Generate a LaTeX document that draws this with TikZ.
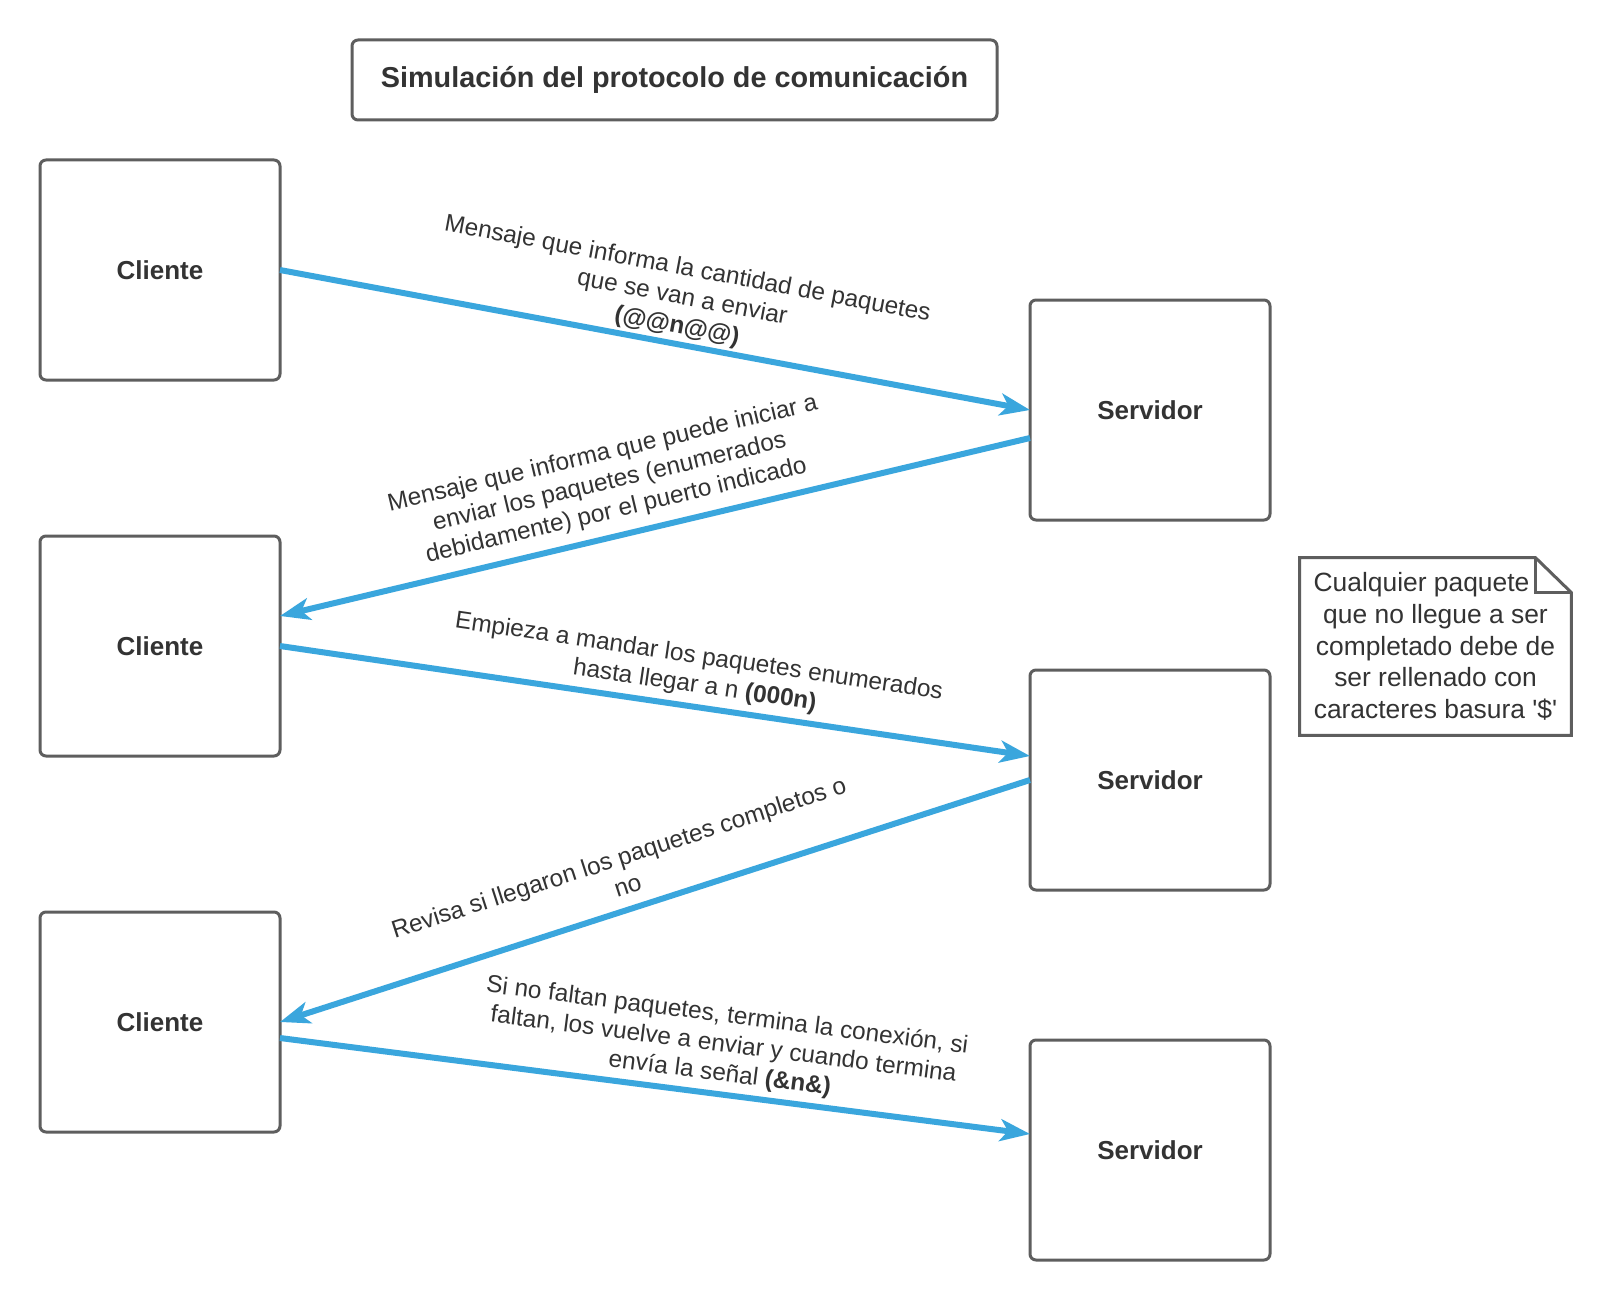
\documentclass[tikz,border=0pt]{standalone}
\usepackage{fontspec}
\setmainfont{Liberation Sans}[Ligatures=TeXOff]
\usepackage{tikz}
\usetikzlibrary{arrows.meta, positioning}
\definecolor{texto}{HTML}{333333}
\definecolor{borde}{HTML}{5E5E5E}
\definecolor{flecha}{HTML}{3AA6DD}
\tikzstyle{block} = [rectangle, draw=borde, line width=1.5pt, rounded corners=3pt,
  minimum width=120pt, minimum height=110pt, outer sep=0pt, text=texto,
  font=\fontsize{13}{15.6}\selectfont\bfseries]
\tikzstyle{arrow} = [draw=flecha, line width=3pt, -{Stealth[length=15pt, width=11pt, inset=4pt]}]
\tikzstyle{msg} = [text=texto, align=center, sloped, inner sep=0pt,
  font=\fontsize{12.2}{14.6}\selectfont]

\begin{document}
\begin{tikzpicture}[x=0.5pt, y=-0.5pt]
    \path[use as bounding box, fill=white] (0,0) rectangle (1611,1300);
    \node[block, minimum width=322.5pt, minimum height=40pt,
      font=\fontsize{14.4}{17}\selectfont\bfseries] (titulo) at (674.5,80)
      {Simulación del protocolo de comunicación};
    \node[block] (cliente1) at (160,270) {Cliente};
    \node[block, below=78pt of cliente1] (cliente2) {Cliente};
    \node[block, below=78pt of cliente2] (cliente3) {Cliente};
    \node[block] (servidor1) at (1150,410) {Servidor};
    \node[block, below=75pt of servidor1] (servidor2) {Servidor};
    \node[block, below=75pt of servidor2] (servidor3) {Servidor};
    \node[text=texto, align=center, minimum width=135.5pt, minimum height=88.5pt,
      font=\fontsize{13.2}{15.9}\selectfont] (nota) at (1435.5,646.5)
      {Cualquier paquete\hspace*{14pt}\\que no llegue a ser\\completado debe de\\ser rellenado con\\caracteres basura '\$'};
    \draw[borde, line width=1.5pt] (nota.north west) -- ([xshift=-18pt]nota.north east)
      -- ([yshift=-17.5pt]nota.north east) -- (nota.south east) -- (nota.south west) -- cycle;
    \draw[borde, line width=1.5pt] ([xshift=-18pt]nota.north east) |- ([yshift=-17.5pt]nota.north east);
    \draw[arrow] (cliente1.east) -- node[msg, pos=0.525, yshift=23pt] (msg1)
      {Mensaje que informa la cantidad de paquetes\\que se van a enviar\\\textbf{(@@n@@)}} (servidor1.west);
    \draw[arrow] ([yshift=-14pt]servidor1.west) -- node[msg, pos=0.544, yshift=26.8pt] (msg2)
      {Mensaje que informa que puede iniciar a\\enviar los paquetes (enumerados\\debidamente) por el puerto indicado} ([yshift=15pt]cliente2.east);
    \draw[arrow] (cliente2.east) -- node[msg, pos=0.549, yshift=17.5pt] (msg3)
      {Empieza a mandar los paquetes enumerados\\hasta llegar a n \textbf{(000n)}} ([yshift=12pt]servidor2.west);
    \draw[arrow] (servidor2.west) -- node[msg, pos=0.527, yshift=19pt] (msg4)
      {Revisa si llegaron los paquetes completos o\\no} (cliente3.east);
    \draw[arrow] ([yshift=-8pt]cliente3.east) -- node[msg, pos=0.583, yshift=24.5pt] (msg5)
      {Si no faltan paquetes, termina la conexión, si\\faltan, los vuelve a enviar y cuando termina\\envía la señal \textbf{(\&n\&)}} ([yshift=8pt]servidor3.west);
  \end{tikzpicture}
\end{document}
